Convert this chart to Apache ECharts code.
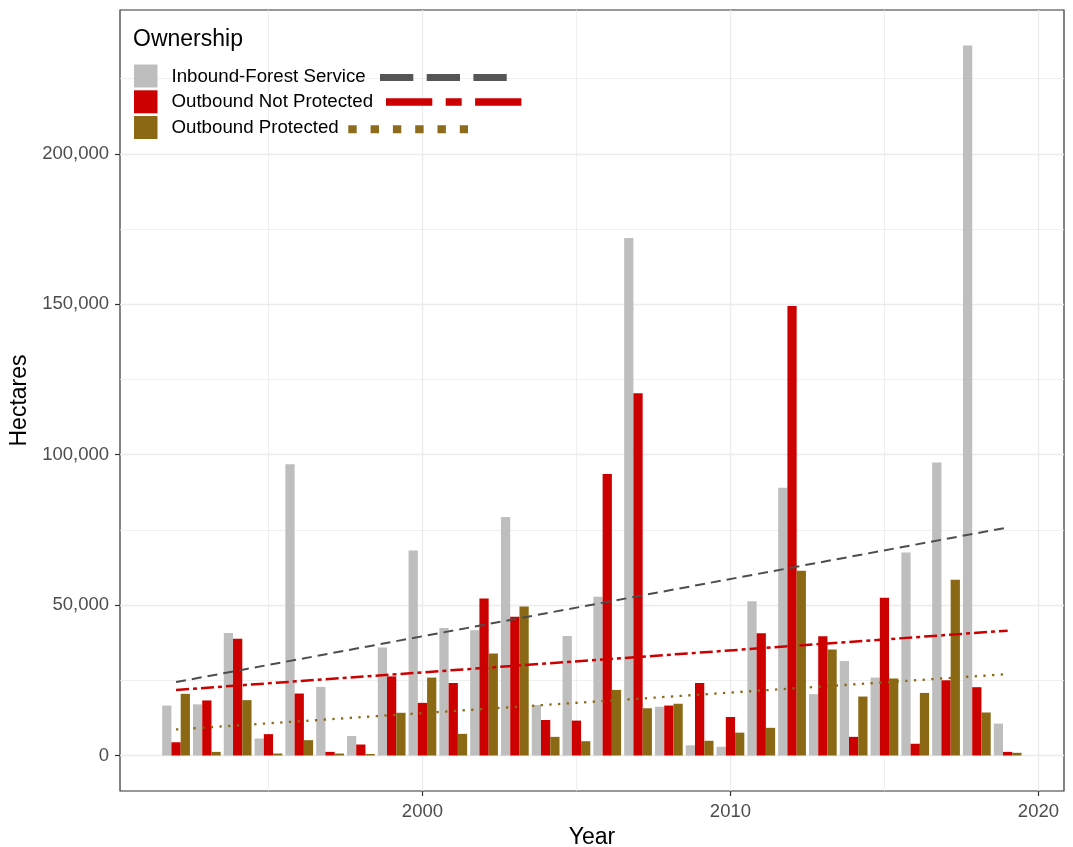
<!DOCTYPE html>
<html><head><meta charset="utf-8">
<script src="https://cdn.jsdelivr.net/npm/echarts@6/dist/echarts.min.js"></script>
<style>html,body{margin:0;padding:0;background:#fff}#c{width:1073px;height:847px}</style>
</head><body><div id="c"></div>
<script>
const years = [1992,1993,1994,1995,1996,1997,1998,1999,2000,2001,2002,2003,2004,2005,2006,2007,2008,2009,2010,2011,2012,2013,2014,2015,2016,2017,2018,2019];
const inboundFS = [16600,17000,40700,5650,96800,22800,6500,35900,68100,42400,41600,79300,16800,39700,52800,172000,16200,3400,2900,51300,89000,20400,31400,25900,67500,97400,236000,10600];
const outboundNotProtected = [4400,18300,38800,7100,20600,1200,3650,26300,17500,24100,52200,46100,11800,11600,93600,120400,16600,24100,12800,40600,149400,39600,6200,52400,3900,25000,22700,1200];
const outboundProtected = [20500,1200,18400,660,5100,660,500,14200,25900,7200,33900,49500,6200,4750,21800,15700,17200,4900,7600,9200,61400,35200,19600,25600,20800,58400,14300,900];
// trend line endpoints (start year, end year)
const trendYears = [1992, 2019];
const trendInbound = [24400, 75800];
const trendNotProtected = [21800, 41500];
const trendProtected = [8650, 27050];
const seriesNames = ['Inbound-Forest Service','Outbound Not Protected','Outbound Protected'];
const xMajor = [2000,2010,2020], xMinor = [1995,2005,2015];
const yMajor = [0,50000,100000,150000,200000], yMinor = [25000,75000,125000,175000,225000];

const font = '"Liberation Sans", Arial, sans-serif';
const colors = ['#BEBEBE','#CD0000','#8B6914'];
const lineColors = ['#4D4D4D','#CD0000','#8B6914'];
const xMin = 1990.18, xMax = 2020.83, yMin = -11800, yMax = 247800;

const chart = echarts.init(document.getElementById('c'));
const pair = (xs, ys) => xs.map((x,i)=>[x, ys[i]]);
const barBase = {type:'bar', xAxisIndex:0, yAxisIndex:0, barWidth:9.25, barGap:'0%', z:2};
const lineBase = {type:'line', xAxisIndex:0, yAxisIndex:0, showSymbol:false, symbol:'none', z:5, silent:true};
const Z = 100;

const option = {
  animation:false,
  backgroundColor:'#fff',
  grid:{left:120, top:10, width:944, height:781, containLabel:false, outerBoundsMode:'none', show:true, borderColor:'#333', borderWidth:1.2, backgroundColor:'transparent'},
  xAxis:[
    {type:'value', min:xMin, max:xMax, position:'bottom',
     axisLine:{show:false, onZero:false},
     axisTick:{show:true, customValues:xMajor, length:5, lineStyle:{color:'#333', width:1.2}},
     axisLabel:{customValues:xMajor, color:'#4D4D4D', fontSize:18.5, fontFamily:font, margin:11, formatter:v=>String(v)},
     splitLine:{show:true, lineStyle:{color:'#EBEBEB', width:1.3}},
     name:'Year', nameLocation:'middle', nameGap:31, nameTextStyle:{color:'#000', fontSize:23, fontFamily:font}},
    {type:'value', min:xMin, max:xMax, position:'bottom',
     axisLine:{show:false, onZero:false}, axisTick:{show:false, customValues:xMinor}, axisLabel:{show:false},
     splitLine:{show:true, lineStyle:{color:'#EBEBEB', width:0.8}}}
  ],
  yAxis:[
    {type:'value', min:yMin, max:yMax, position:'left',
     axisLine:{show:false, onZero:false},
     axisTick:{show:true, customValues:yMajor, length:5, lineStyle:{color:'#333', width:1.2}},
     axisLabel:{customValues:yMajor, color:'#4D4D4D', fontSize:18.5, fontFamily:font, margin:11, formatter:v=>Number(v).toLocaleString('en-US')},
     splitLine:{show:true, lineStyle:{color:'#EBEBEB', width:1.3}},
     name:'Hectares', nameLocation:'middle', nameGap:83, nameTextStyle:{color:'#000', fontSize:23, fontFamily:font}},
    {type:'value', min:yMin, max:yMax, position:'left',
     axisLine:{show:false, onZero:false}, axisTick:{show:false, customValues:yMinor}, axisLabel:{show:false},
     splitLine:{show:true, lineStyle:{color:'#EBEBEB', width:0.8}}}
  ],
  series:[
    Object.assign({}, barBase, {name:seriesNames[0], data:pair(years, inboundFS), itemStyle:{color:colors[0]}}),
    Object.assign({}, barBase, {name:seriesNames[1], data:pair(years, outboundNotProtected), itemStyle:{color:colors[1]}}),
    Object.assign({}, barBase, {name:seriesNames[2], data:pair(years, outboundProtected), itemStyle:{color:colors[2]}}),
    Object.assign({}, lineBase, {name:seriesNames[0]+' trend', data:pair(trendYears, trendInbound), lineStyle:{color:lineColors[0], width:2, type:[10,6], cap:'butt'}}),
    Object.assign({}, lineBase, {name:seriesNames[1]+' trend', data:pair(trendYears, trendNotProtected), lineStyle:{color:lineColors[1], width:2.5, type:[13,4,4,4], cap:'butt'}}),
    Object.assign({}, lineBase, {name:seriesNames[2]+' trend', data:pair(trendYears, trendProtected), lineStyle:{color:lineColors[2], width:2.3, type:[2.3,6.4], cap:'butt'}})
  ],
  graphic:[
    {type:'text', z:Z, left:133, top:28, style:{text:'Ownership', fontSize:23, fontFamily:font, fill:'#000'}},
    {type:'rect', z:Z, shape:{x:134, y:64.5, width:23.5, height:23}, style:{fill:colors[0]}},
    {type:'rect', z:Z, shape:{x:134, y:90.3, width:23.5, height:23}, style:{fill:colors[1]}},
    {type:'rect', z:Z, shape:{x:134, y:116, width:23.5, height:23}, style:{fill:colors[2]}},
    {type:'text', z:Z, x:171.5, y:76.5, style:{text:seriesNames[0], fontSize:18.7, fontFamily:font, fill:'#000', verticalAlign:'middle'}},
    {type:'text', z:Z, x:171.5, y:102, style:{text:seriesNames[1], fontSize:18.7, fontFamily:font, fill:'#000', verticalAlign:'middle'}},
    {type:'text', z:Z, x:171.5, y:128, style:{text:seriesNames[2], fontSize:18.7, fontFamily:font, fill:'#000', verticalAlign:'middle'}},
    {type:'line', z:Z, shape:{x1:380, y1:77.5, x2:507, y2:77.5}, style:{stroke:'#555', lineWidth:7, lineDash:[33.3,13.4], lineCap:'butt'}},
    {type:'line', z:Z, shape:{x1:386, y1:102, x2:522.3, y2:102}, style:{stroke:colors[1], lineWidth:7.5, lineDash:[46.3,13.4,16,13.4], lineCap:'butt'}},
    {type:'line', z:Z, shape:{x1:348.3, y1:129.3, x2:468, y2:129.3}, style:{stroke:'#8E6C1E', lineWidth:8, lineDash:[8.4,13.9], lineCap:'butt'}}
  ]
};
chart.setOption(option);
</script>
</body></html>
